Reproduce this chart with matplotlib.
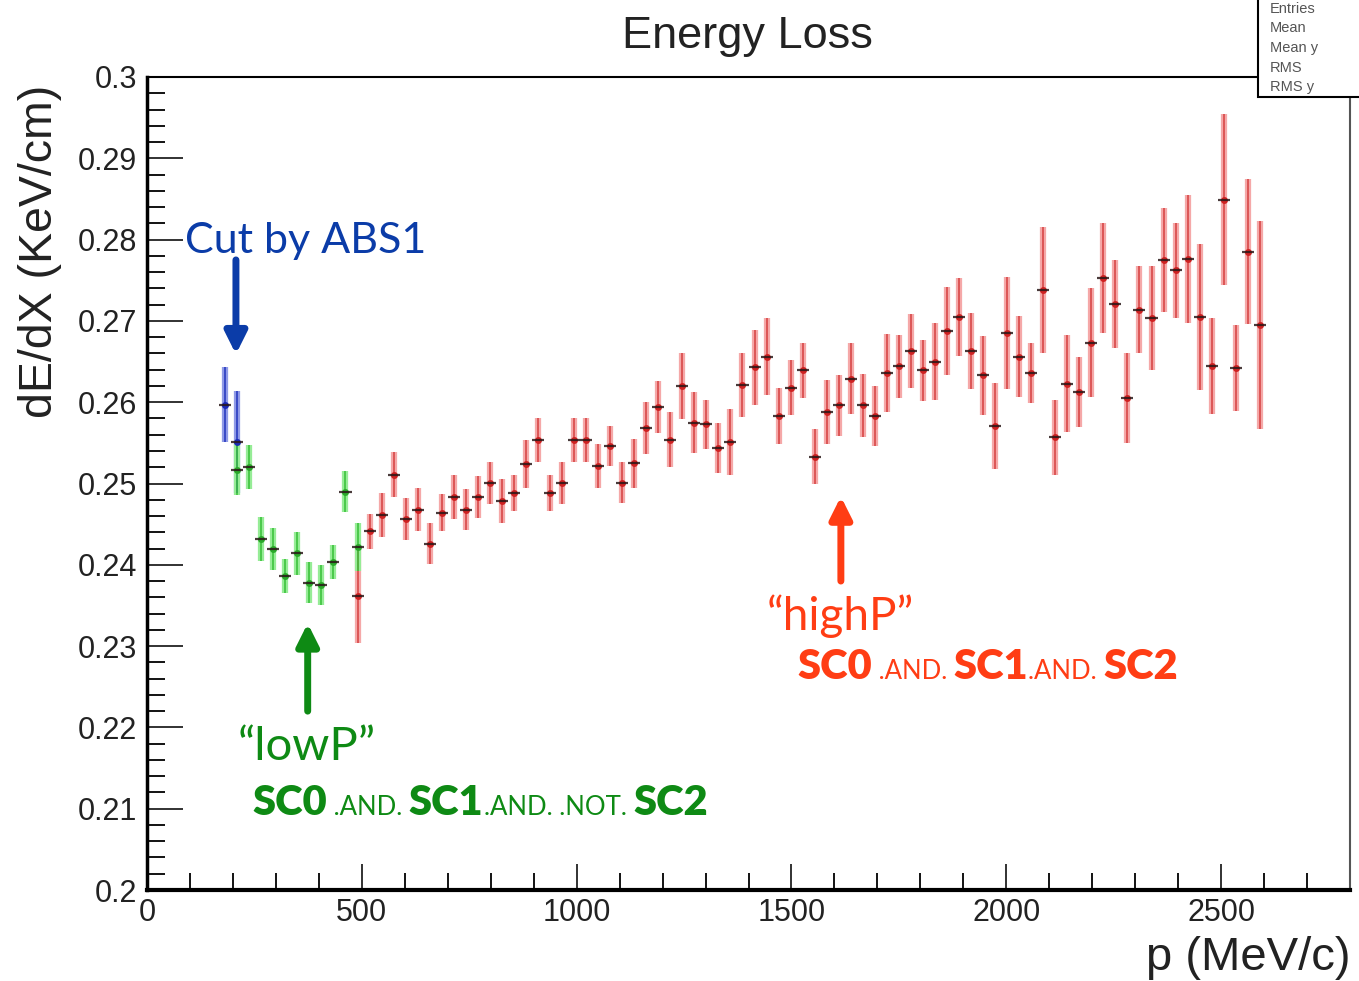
import numpy as np
import matplotlib
matplotlib.use('Agg')
import matplotlib.pyplot as plt
from matplotlib import transforms as mtransforms
from matplotlib.patches import Rectangle
from matplotlib.ticker import MultipleLocator, FuncFormatter

# bins are 28 MeV/c wide, points sit at the bin centres
BIN_HALF = 14

# events cut by ABS1
p_cut = [182, 210]
dedx_cut = [0.2597, 0.2551]
err_cut = [0.0046, 0.0063]

# lowP sample: SC0 .AND. SC1 .AND. .NOT. SC2
p_low = [210, 238, 266, 294, 322, 350, 378, 406, 434, 462, 490]
dedx_low = [0.2517, 0.2520, 0.2432, 0.2419, 0.2386, 0.2414, 0.2378, 0.2375,
            0.2403, 0.2490, 0.2422]
err_low = [0.0031, 0.0027, 0.0027, 0.0026, 0.0021, 0.0026, 0.0025, 0.0025,
           0.0021, 0.0025, 0.0030]

# highP sample: SC0 .AND. SC1 .AND. SC2
p_high = [490, 518, 546, 574, 602, 630, 658, 686, 714, 742, 770, 798, 826,
          854, 882, 910, 938, 966, 994, 1022, 1050, 1078, 1106, 1134, 1162,
          1190, 1218, 1246, 1274, 1302, 1330, 1358, 1386, 1414, 1442, 1470,
          1498, 1526, 1554, 1582, 1610, 1638, 1666, 1694, 1722, 1750, 1778,
          1806, 1834, 1862, 1890, 1918, 1946, 1974, 2002, 2030, 2058, 2086,
          2114, 2142, 2170, 2198, 2226, 2254, 2282, 2310, 2338, 2366, 2394,
          2422, 2450, 2478, 2506, 2534, 2562, 2590]
dedx_high = [0.2362, 0.2441, 0.2461, 0.2511, 0.2456, 0.2468, 0.2426, 0.2464,
             0.2483, 0.2468, 0.2483, 0.2501, 0.2479, 0.2488, 0.2524, 0.2553,
             0.2488, 0.2501, 0.2554, 0.2554, 0.2522, 0.2546, 0.2501, 0.2525,
             0.2568, 0.2594, 0.2554, 0.2620, 0.2575, 0.2573, 0.2544, 0.2551,
             0.2621, 0.2643, 0.2656, 0.2583, 0.2618, 0.2639, 0.2533, 0.2588,
             0.2596, 0.2629, 0.2596, 0.2583, 0.2636, 0.2644, 0.2663, 0.2639,
             0.2650, 0.2688, 0.2705, 0.2663, 0.2633, 0.2571, 0.2685, 0.2656,
             0.2636, 0.2738, 0.2557, 0.2623, 0.2613, 0.2673, 0.2753, 0.2721,
             0.2605, 0.2714, 0.2703, 0.2775, 0.2762, 0.2776, 0.2705, 0.2644,
             0.2849, 0.2642, 0.2785, 0.2695]
err_high = [0.0058, 0.0022, 0.0027, 0.0028, 0.0026, 0.0026, 0.0025, 0.0023,
            0.0027, 0.0025, 0.0026, 0.0026, 0.0027, 0.0022, 0.0030, 0.0027,
            0.0022, 0.0026, 0.0027, 0.0027, 0.0027, 0.0025, 0.0025, 0.0030,
            0.0032, 0.0032, 0.0034, 0.0041, 0.0038, 0.0030, 0.0031, 0.0041,
            0.0039, 0.0046, 0.0047, 0.0034, 0.0034, 0.0034, 0.0034, 0.0039,
            0.0038, 0.0044, 0.0039, 0.0037, 0.0048, 0.0039, 0.0046, 0.0037,
            0.0047, 0.0054, 0.0048, 0.0047, 0.0049, 0.0053, 0.0069, 0.0050,
            0.0037, 0.0078, 0.0046, 0.0060, 0.0043, 0.0067, 0.0068, 0.0054,
            0.0055, 0.0053, 0.0064, 0.0064, 0.0058, 0.0079, 0.0090, 0.0059,
            0.0105, 0.0053, 0.0089, 0.0128]

stats_rows = ['Entries', 'Mean', 'Mean y', 'RMS', 'RMS y']

BLUE = '#0b3ca8'
GREEN = '#0e8a14'
RED = '#ff3d14'
ANN_FONT = ['Lato', 'DejaVu Sans']
AX_FONT = ['Liberation Sans', 'DejaVu Sans']


def draw_points(ax, p, y, err, pale, core, dot):
    ax.errorbar(p, y, yerr=err, fmt='none', ecolor=pale, elinewidth=4.5,
                capsize=0, zorder=3)
    ax.errorbar(p, y, yerr=err, fmt='none', ecolor=core, elinewidth=1.2,
                capsize=0, zorder=4)
    ax.plot(p, y, 'o', ms=5, color=dot, mec='none', zorder=5)
    ax.errorbar(p, y, xerr=BIN_HALF, fmt='none', ecolor='#2a1818',
                elinewidth=1.6, capsize=0, zorder=6, alpha=0.85)


def run_text(ax, x, y, pieces, color):
    # lay text pieces one after another along the baseline
    renderer = fig.canvas.get_renderer()
    tr = ax.transData
    for s, size, weight in pieces:
        t = ax.text(x, y, s, transform=tr, fontsize=size, fontweight=weight,
                    color=color, family=ANN_FONT, va='baseline', ha='left',
                    clip_on=False)
        ext = t.get_window_extent(renderer)
        tr = mtransforms.offset_copy(t.get_transform(), fig=fig,
                                     x=ext.width, units='dots')


fig = plt.figure(figsize=(13.59, 9.81), dpi=100)
ax = fig.add_axes([147 / 1359, 91 / 981, 1203 / 1359, 813 / 981])

draw_points(ax, p_high, dedx_high, err_high, '#f5a8a8', '#d84848', '#d02222')
draw_points(ax, p_cut, dedx_cut, err_cut, '#8f9ae6', '#2a3cc0', '#1a2ab8')
draw_points(ax, p_low, dedx_low, err_low, '#96ec96', '#3ec23e', '#2aaa2a')

ax.set_xlim(0, 2800)
ax.set_ylim(0.2, 0.3)
ax.xaxis.set_major_locator(MultipleLocator(500))
ax.xaxis.set_minor_locator(MultipleLocator(100))
ax.yaxis.set_major_locator(MultipleLocator(0.01))
ax.yaxis.set_minor_locator(MultipleLocator(0.002))
ax.yaxis.set_major_formatter(FuncFormatter(lambda v, pos: '%g' % round(v, 3)))
ax.tick_params(axis='y', which='major', direction='in', length=26, width=1.3,
               labelsize=22, pad=7, colors='#222222')
ax.tick_params(axis='y', which='minor', direction='in', length=13, width=1.3)
ax.tick_params(axis='x', which='major', direction='in', length=19, width=1.3,
               labelsize=22, pad=6, colors='#222222')
ax.tick_params(axis='x', which='minor', direction='in', length=12, width=1.3)
for lab in ax.get_xticklabels() + ax.get_yticklabels():
    lab.set_family(AX_FONT)

ax.spines['left'].set_linewidth(2.5)
ax.spines['bottom'].set_linewidth(3)
ax.spines['top'].set_linewidth(1.5)
ax.spines['right'].set_linewidth(1.5)
ax.spines['right'].set_color('#555555')

fig.text(747 / 1359, 1 - 48 / 981, 'Energy Loss', ha='center', va='baseline',
         fontsize=32.5, color='#222222', family=AX_FONT)
fig.text(40 / 1359, 1 - 85 / 981, 'dE/dX (KeV/cm)', rotation=90, ha='center',
         va='top', fontsize=33.5, color='#222222', family=AX_FONT)
fig.text(1350 / 1359, 1 - 958 / 981, 'p (MeV/c)', ha='right', va='center',
         fontsize=34, color='#222222', family=AX_FONT)

# statistics box, cut off at the top right corner
fig.patches.append(Rectangle((1258 / 1359, 1 - 97 / 981), 0.1, 0.2,
                             transform=fig.transFigure, facecolor='white',
                             edgecolor='black', lw=1.5, zorder=10))
for i, row in enumerate(stats_rows):
    fig.text(1270 / 1359, 1 - (9 + 19.5 * i) / 981, row, ha='left',
             va='center', fontsize=10.5, color='#555555', family=AX_FONT,
             zorder=11)

# annotations
arrow = dict(arrowstyle='-|>,head_width=0.65,head_length=1.3', lw=5,
             shrinkA=0, shrinkB=0)
ax.annotate('', xy=(207, 0.2659), xytext=(207, 0.2775),
            arrowprops=dict(arrow, color=BLUE), annotation_clip=False)
ax.annotate('', xy=(374, 0.2328), xytext=(374, 0.2220),
            arrowprops=dict(arrow, color=GREEN), annotation_clip=False)
ax.annotate('', xy=(1615, 0.2484), xytext=(1615, 0.2380),
            arrowprops=dict(arrow, color=RED), annotation_clip=False)

ax.text(89, 0.2784, 'Cut by ABS1', fontsize=31, color=BLUE, family=ANN_FONT,
        va='baseline')
ax.text(212, 0.2160, '\u201clowP\u201d', fontsize=34, color=GREEN,
        family=ANN_FONT, va='baseline')
ax.text(1443, 0.2320, '\u201chighP\u201d', fontsize=33, color=RED,
        family=ANN_FONT, va='baseline')

run_text(ax, 245, 0.2092,
         [('SC0', 30, 'heavy'), (' .AND. ', 18.5, 'normal'), ('SC1', 30, 'heavy'),
          ('.AND. .NOT. ', 18.5, 'normal'), ('SC2', 30, 'heavy')], GREEN)
run_text(ax, 1513, 0.2259,
         [('SC0', 30, 'heavy'), (' .AND. ', 18.5, 'normal'), ('SC1', 30, 'heavy'),
          ('.AND. ', 18.5, 'normal'), ('SC2', 30, 'heavy')], RED)

fig.savefig('out.png', dpi=100)
